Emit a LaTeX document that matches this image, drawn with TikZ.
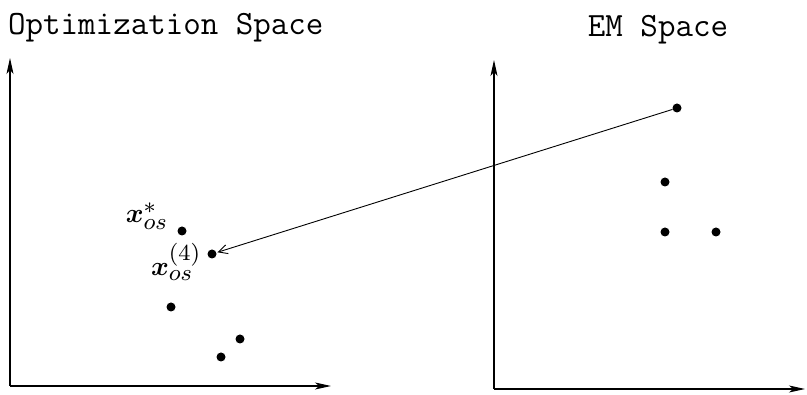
\RequirePackage{fix-cm}
\documentclass[tikz,border=0pt]{standalone}
\usepackage{amsmath,amssymb,bm}
\usepackage{fontspec}
\usepackage{tikz}
\usetikzlibrary{arrows.meta,positioning}
\DeclareMathSizes{10}{10}{8.5}{7}
\tikzset{
  dot/.style={circle, fill=black, inner sep=0pt, minimum size=9pt},
  axis/.style={-{Stealth[length=16pt, width=7pt, inset=4pt]}, line width=1.1pt},
  link/.style={-{Straight Barb[length=9pt, width=9pt]}, line width=0.9pt, shorten >=1pt},
  title/.style={font=\fontsize{34}{38}\selectfont\ttfamily, inner sep=0pt},
  lab/.style={font=\normalsize, inner sep=0pt, scale=2.7, transform shape},
}
\begin{document}
\begin{tikzpicture}[x=1pt, y=-1pt]
  \useasboundingbox (0,0) rectangle (807,395);
  % titles
  \node[title, anchor=base west] (tOS) at (8,35) {Optimization Space};
  \node[title, anchor=base] (tEM) at (658,37) {EM Space};
  % axes
  \coordinate (o1) at (10,386);
  \coordinate (y1) at (10,58);
  \coordinate (x1) at (331,386);
  \coordinate (o2) at (494,389);
  \coordinate (y2) at (494,60);
  \coordinate (x2) at (805,389);
  \draw[axis] (o1) -- (y1);
  \draw[axis] (o1) -- (x1);
  \draw[axis] (o2) -- (y2);
  \draw[axis] (o2) -- (x2);
  % optimization space points
  \node[dot] (osS) at (182,231) {};
  \node[dot] (os4) at (212,254) {};
  \node[dot] (osA) at (171,307) {};
  \node[dot] (osB) at (240,339) {};
  \node[dot] (osC) at (221,357) {};
  \node[lab] (lS) at (147,216) {$\bm{x}^{*}_{os}$};
  \node[lab, anchor=east] (l4) at (202,262) {$\bm{x}^{(4)}_{os}$};
  % EM space points
  \node[dot] (em1) at (677,108) {};
  \node[dot] (em2) at (665,182) {};
  \node[dot] (em3) at (665,232) {};
  \node[dot] (em4) at (716,232) {};
  \draw[link] (em1) -- (os4);
\end{tikzpicture}
\end{document}
